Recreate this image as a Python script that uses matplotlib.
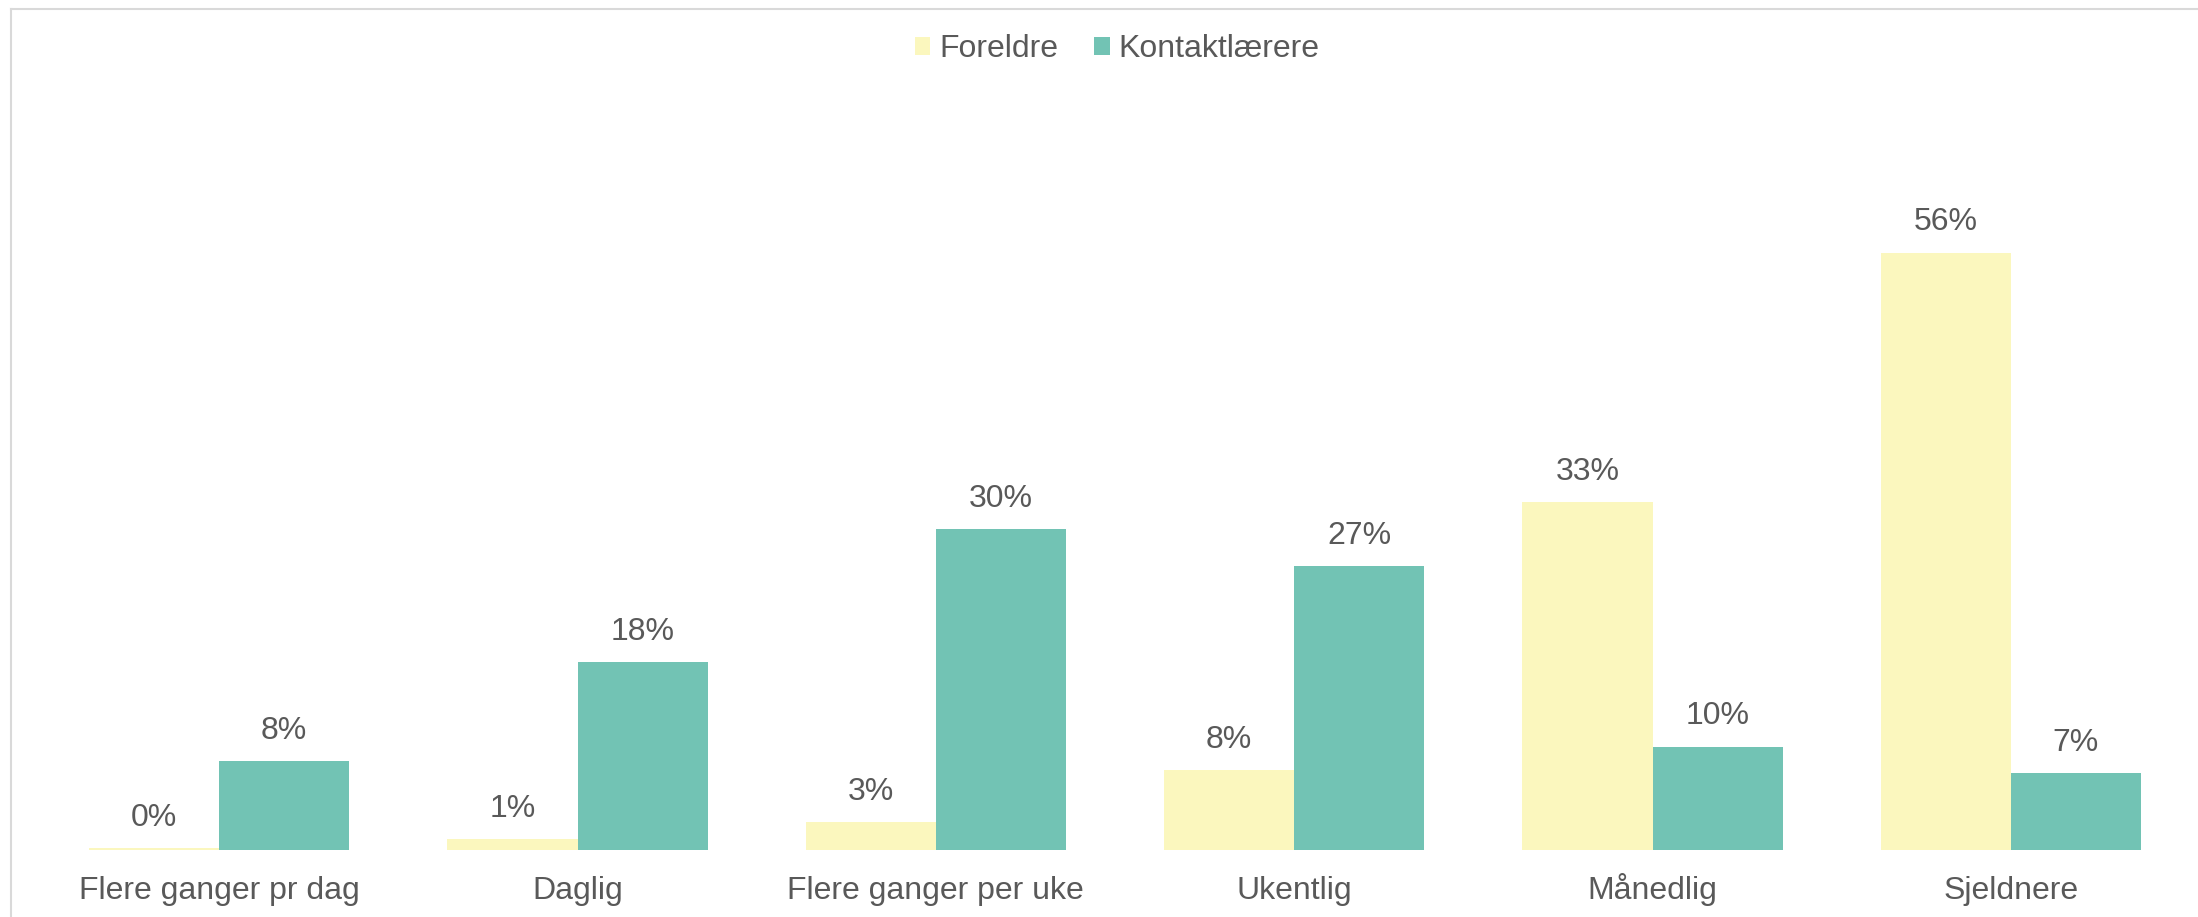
import matplotlib
matplotlib.use("Agg")
import matplotlib.pyplot as plt
from matplotlib.patches import Patch
from matplotlib.lines import Line2D
import numpy as np

categories = ["Flere ganger pr dag", "Daglig", "Flere ganger per uke", "Ukentlig", "Månedlig", "Sjeldnere"]
series_names = ["Foreldre", "Kontaktlærere"]
foreldre = [0.2, 1.0, 2.6, 7.5, 32.6, 56.0]
kontakt = [8.3, 17.6, 30.1, 26.6, 9.7, 7.2]
colors = ["#FBF7BE", "#72C3B4"]
text_color = "#595959"

plt.rcParams['font.family'] = ['Liberation Sans', 'DejaVu Sans']

W, H = 2198, 917
fig = plt.figure(figsize=(W / 100, H / 100), dpi=100)
ax = fig.add_axes([40 / W, 1 - 850 / H, 2150 / W, 640 / H])

x = np.arange(len(categories))
w = 0.363
b1 = ax.bar(x - w / 2, foreldre, w, color=colors[0], label=series_names[0])
b2 = ax.bar(x + w / 2, kontakt, w, color=colors[1], label=series_names[1])

fs = 23
for bars, vals in ((b1, foreldre), (b2, kontakt)):
    for rect, v in zip(bars, vals):
        ax.annotate(f"{round(v):d}%", (rect.get_x() + rect.get_width() / 2, rect.get_height()),
                    xytext=(0, 11), textcoords="offset points", ha="center", va="bottom",
                    fontsize=fs, color=text_color)

ax.set_xlim(-0.5, len(categories) - 0.5)
ax.set_ylim(0, 60)
ax.set_xticks(x)
ax.set_xticklabels(categories, fontsize=fs, color=text_color)
ax.tick_params(axis="x", length=0, pad=35)
for lbl in ax.get_xticklabels():
    lbl.set_verticalalignment("baseline")
ax.set_yticks([])
for s in ax.spines.values():
    s.set_visible(False)

handles = [Patch(facecolor=c, edgecolor="none") for c in colors]
fig.legend(handles, series_names, loc="center", bbox_to_anchor=(1117 / W, 1 - 49 / H),
           ncol=2, frameon=False, fontsize=fs, labelcolor=text_color,
           handlelength=0.5, handleheight=0.5, handletextpad=0.28, columnspacing=1.1,
           borderpad=0, borderaxespad=0)

# outer border of chart area
fig.add_artist(Line2D([11 / W, 11 / W], [0, 1 - 9 / H], transform=fig.transFigure,
                      color="#D9D9D9", lw=1.5))
fig.add_artist(Line2D([11 / W, 1], [1 - 9 / H, 1 - 9 / H], transform=fig.transFigure,
                      color="#D9D9D9", lw=1.5))

fig.savefig("out.png", dpi=100, facecolor="white")
